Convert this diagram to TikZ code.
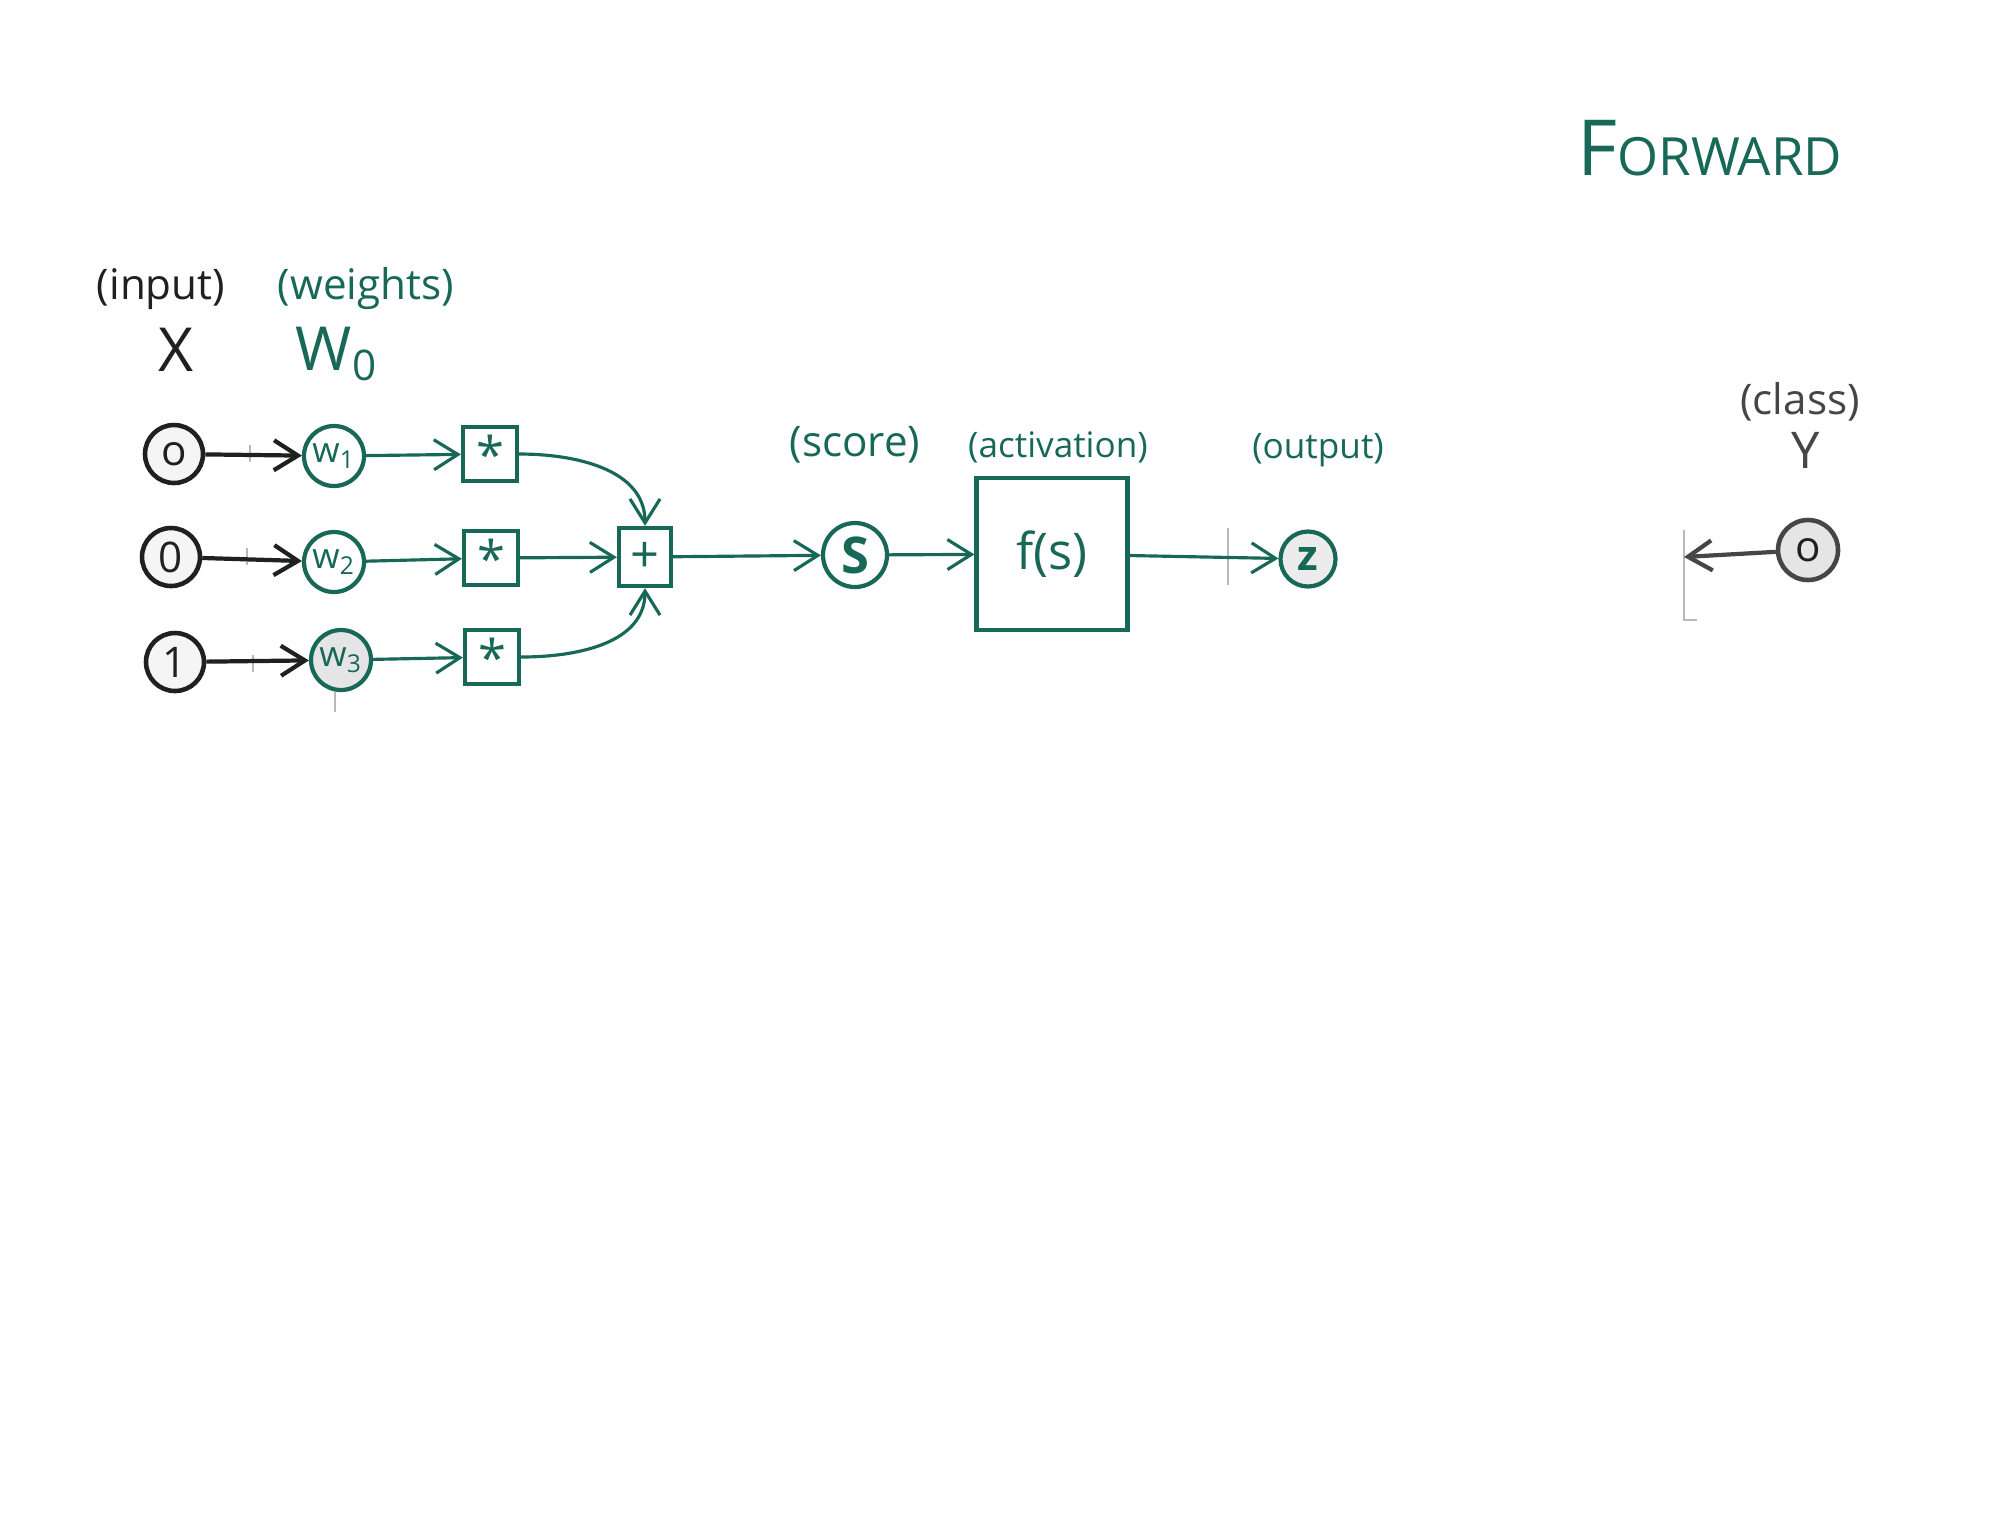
\documentclass[tikz,border=0pt]{standalone}
\usepackage{fontspec}
\setmainfont{Open Sans}
\usepackage{tikz}
\usetikzlibrary{arrows.meta, positioning}

\definecolor{inkgreen}{RGB}{24,104,88}
\definecolor{inkblack}{RGB}{32,32,32}
\definecolor{inkgray}{RGB}{70,70,70}

\begin{document}
\begin{tikzpicture}[
    inp/.style={circle, draw=inkblack, line width=1.3pt, fill=gray!8,
      minimum size=0.58cm, inner sep=0pt, font=\large, text=inkblack},
    wgt/.style={circle, draw=inkgreen, line width=1.2pt, fill=white,
      minimum size=0.60cm, inner sep=0pt, font=\normalsize, text=inkgreen},
    op/.style={rectangle, draw=inkgreen, line width=1.2pt, fill=white,
      minimum size=0.54cm, inner sep=0pt, font=\Large, text=inkgreen},
    lbl/.style={font=\large, text=inkgreen},
    blbl/.style={font=\large, text=inkblack},
    bk/.style={-{Straight Barb[length=2.4mm, width=3mm]}, line width=1.2pt, draw=inkblack},
    gr/.style={-{Straight Barb[length=2.4mm, width=3mm]}, line width=0.9pt, draw=inkgreen},
    pencil/.style={draw=gray!55, line width=0.4pt}
  ]
    \useasboundingbox[fill=white] (0,0) rectangle (20.16,-15.12);

    % title
    \node[text=inkgreen] (title) at (17.10,-1.48)
      {\fontsize{22}{24}\selectfont F\fontsize{15}{17}\selectfont ORWARD};

    % input and weights
    \node[blbl] (inlbl) at (1.61,-2.89) {(input)};
    \node[inp] (in1) at (1.74,-4.54) {o};
    \node[inp] (in2) at (1.71,-5.57) {0};
    \node[inp] (in3) at (1.75,-6.62) {1};
    \node[font=\LARGE, text=inkblack] (xlbl) at (1.76,-3.50) {X};

    \node[lbl] (wlbl) at (3.66,-2.89) {(weights)};
    \node[font=\LARGE, text=inkgreen] (wzero) at (3.37,-3.54) {W\textsubscript{0}};
    \node[wgt] (w1) at (3.34,-4.56) {w\textsubscript{1}};
    \node[wgt] (w2) at (3.34,-5.62) {w\textsubscript{2}};
    \node[wgt, fill=gray!20] (w3) at (3.41,-6.60) {w\textsubscript{3}};

    % products and sum
    \node[op] (m1) at (4.90,-4.54) {*};
    \node[op] (m2) at (4.91,-5.58) {*};
    \node[op] (m3) at (4.92,-6.57) {*};
    \node[op, minimum width=0.52cm, minimum height=0.58cm] (sum) at (6.45,-5.57) {+};

    % score, activation, output
    \node[wgt, minimum size=0.64cm, font=\Large\bfseries] (s) at (8.55,-5.55) {S};
    \node[lbl, above=0.45cm of s] (slbl) {(score)};
    \node[rectangle, draw=inkgreen, line width=1.2pt, minimum width=1.51cm,
      minimum height=1.52cm, font=\Large, text=inkgreen] (act) at (10.52,-5.54) {f(s)};
    \node[lbl, font=\normalsize] (actlbl) at (10.58,-4.47) {(activation)};
    \node[wgt, minimum size=0.55cm, fill=gray!15, font=\large\bfseries] (z) at (13.08,-5.59) {z};
    \node[lbl, font=\normalsize] (outlbl) at (13.18,-4.50) {(output)};

    % class
    \node[font=\large, text=inkgray] (clslbl) at (18.00,-4.02) {(class)};
    \node[font=\Large, text=inkgray] (ylbl) at (18.06,-4.50) {Y};
    \node[inp, draw=inkgray, fill=gray!20, minimum size=0.60cm] (cls) at (18.08,-5.50) {o};
    \coordinate (clsend) at (16.84,-5.57);

    % pencil marks
    \draw[pencil] (2.50,-4.45) -- (2.50,-4.62);
    \draw[pencil] (2.47,-5.48) -- (2.47,-5.65);
    \draw[pencil] (2.53,-6.55) -- (2.53,-6.72);
    \draw[pencil] (3.35,-6.92) -- (3.35,-7.12);
    \draw[pencil] (12.28,-5.28) -- (12.28,-5.85);
    \draw[pencil] (16.84,-5.30) -- (16.84,-6.20) -- (16.97,-6.20);

    % connectors
    \draw[bk] (in1) -- (w1);
    \draw[bk] (in2) -- (w2);
    \draw[bk] (in3) -- (w3);
    \draw[gr] (w1) -- (m1);
    \draw[gr] (w2) -- (m2);
    \draw[gr] (w3) -- (m3);
    \draw[gr] (m1.east) to[out=0, in=90] (sum.north);
    \draw[gr] (m2) -- (sum);
    \draw[gr] (m3.east) to[out=0, in=-90] (sum.south);
    \draw[gr] (sum) -- (s);
    \draw[gr] (s) -- (act);
    \draw[gr] (act) -- (z);
    \draw[bk, draw=inkgray] (cls) -- (clsend);
\end{tikzpicture}
\end{document}
